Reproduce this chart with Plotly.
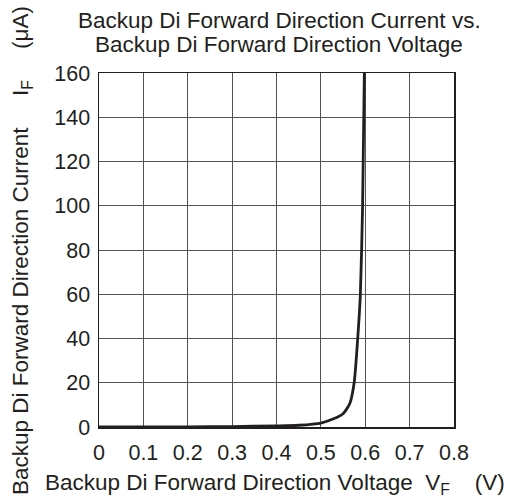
import plotly.graph_objects as go

voltage_v = [0, 0.1, 0.2, 0.3, 0.4, 0.45, 0.5, 0.53, 0.55, 0.565, 0.575, 0.583, 0.589, 0.594, 0.598]
current_ua = [0, 0.05, 0.1, 0.2, 0.5, 0.8, 1.8, 3.8, 6, 10.5, 20, 40, 60, 100, 160]
x_ticks = [0, 0.1, 0.2, 0.3, 0.4, 0.5, 0.6, 0.7, 0.8]
x_tick_labels = ["0", "0.1", "0.2", "0.3", "0.4", "0.5", "0.6", "0.7", "0.8"]
y_ticks = [0, 20, 40, 60, 80, 100, 120, 140, 160]
title_lines = ["Backup Di Forward Direction Current vs.", "Backup Di Forward Direction Voltage"]

FONT = "Liberation Sans, Arial, sans-serif"
TXT = "#231f20"
NB = "\u00a0"
TS = 22.5

W, H = 508, 501
L, R, T, B = 99, 54, 73, 74
PW, PH = W - L - R, H - T - B


def px(sx):
    return (sx - L) / PW


def py(sy):
    return (H - B - sy) / PH


fig = go.Figure()
fig.add_trace(go.Scatter(
    x=voltage_v, y=current_ua, mode="lines",
    line=dict(color=TXT, width=2.8, shape="spline", smoothing=0.6),
    hoverinfo="skip", showlegend=False,
))

fig.update_layout(
    width=W, height=H,
    margin=dict(l=L, r=R, t=T, b=B),
    paper_bgcolor="white", plot_bgcolor="white",
    font=dict(family=FONT, color=TXT, size=21.5),
    xaxis=dict(range=[0, 0.8], tickvals=x_ticks, ticktext=x_tick_labels,
               showgrid=True, gridcolor="#555", gridwidth=1,
               showline=True, linecolor=TXT, linewidth=1.5, mirror=True,
               ticks="", zeroline=False, fixedrange=True, ticklabelstandoff=6,
               tickfont=dict(size=21.5, color=TXT)),
    yaxis=dict(range=[0, 160], tickvals=y_ticks,
               showgrid=True, gridcolor="#555", gridwidth=1,
               showline=True, linecolor=TXT, linewidth=1.5, mirror=True,
               ticks="", zeroline=False, fixedrange=True, ticklabelstandoff=3,
               tickfont=dict(size=21.5, color=TXT)),
    annotations=[
        dict(text=title_lines[0],
             xref="paper", yref="paper", x=px(279.5), y=py(20),
             xanchor="center", yanchor="middle", showarrow=False,
             font=dict(size=TS, color=TXT)),
        dict(text=title_lines[1],
             xref="paper", yref="paper", x=px(278.5), y=py(44.5),
             xanchor="center", yanchor="middle", showarrow=False,
             font=dict(size=TS, color=TXT)),
        dict(text="Backup Di Forward Direction Voltage" + NB * 2 + "V<sub>F</sub>" + NB * 4 + "(V)",
             xref="paper", yref="paper", x=px(275), y=py(484),
             xanchor="center", yanchor="middle",
             showarrow=False, font=dict(size=TS, color=TXT)),
        dict(text="Backup Di Forward Direction Current" + NB * 5 + "I<sub>F</sub>" + NB * 5 + "(\u03bcA)",
             xref="paper", yref="paper", x=px(22), y=py(251), textangle=-90,
             xanchor="center", yanchor="middle",
             showarrow=False, font=dict(size=TS, color=TXT)),
    ],
)

fig.write_html(
    "out.html",
    config={"displayModeBar": False, "staticPlot": True},
    post_script="document.body.style.margin='0';document.body.style.overflow='hidden';",
)
